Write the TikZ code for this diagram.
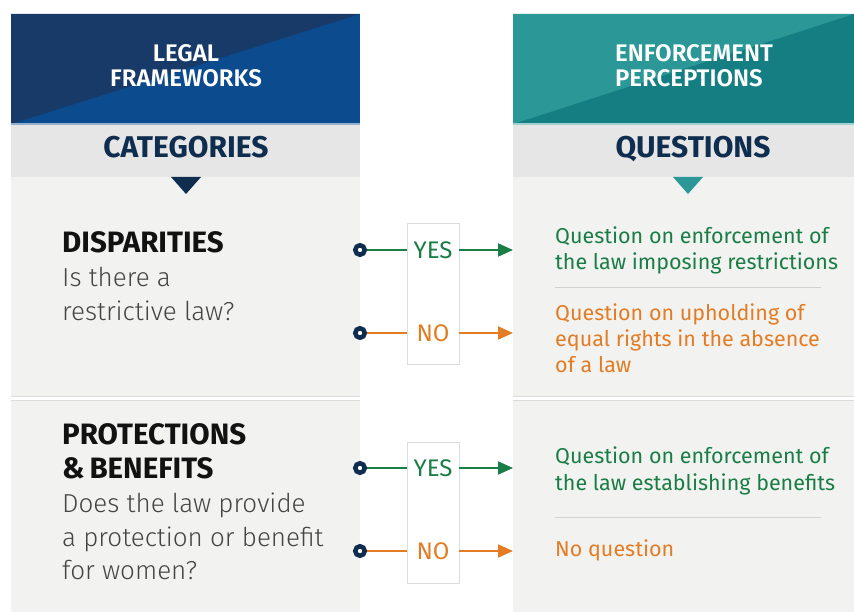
\documentclass[tikz,border=0pt]{standalone}
\usepackage{fontspec}
\setmainfont{Fira Sans}
\newfontfamily\lightfont{Fira Sans Light}
\newfontfamily\semifont{Fira Sans SemiBold}
\usetikzlibrary{arrows.meta}

\definecolor{navydark}{HTML}{173A68}
\definecolor{navylight}{HTML}{0C4B8E}
\definecolor{teallight}{HTML}{2B9797}
\definecolor{tealdark}{HTML}{147E82}
\definecolor{band}{HTML}{E6E6E6}
\definecolor{panel}{HTML}{F2F2F1}
\definecolor{ink}{HTML}{0F2D4E}
\definecolor{yesgreen}{HTML}{1A7D46}
\definecolor{noorange}{HTML}{E37C23}
\definecolor{bodygray}{HTML}{454545}
\definecolor{rulegray}{HTML}{D2D2D2}
\definecolor{boxgray}{HTML}{DCDCDC}

\tikzset{
  headtext/.style={text=white, font=\semifont\fontsize{24}{24}\selectfont, inner sep=0pt},
  bandtext/.style={text=ink, font=\bfseries\fontsize{30}{30}\selectfont, inner sep=0pt},
  cattitle/.style={text=black!93, font=\bfseries\fontsize{29.5}{29.5}\selectfont, inner sep=0pt, anchor=base west},
  catbody/.style={text=bodygray, font=\lightfont\fontsize{26}{26}\selectfont, inner sep=0pt, anchor=base west},
  qtext/.style={font=\fontsize{21.5}{21.5}\selectfont, inner sep=0pt, anchor=base west},
  answer/.style={font=\fontsize{24}{24}\selectfont, inner sep=0pt, minimum width=52pt, minimum height=20pt},
  startdot/.style={circle, draw=ink, line width=4.5pt, fill=white, inner sep=0pt, minimum size=9.5pt},
  link/.style={line width=2pt},
  arrowlink/.style={line width=2pt, -{Triangle[length=15pt,width=13pt]}},
  answerbox/.style={draw=boxgray, fill=white, line width=0.8pt},
  qrule/.style={draw=rulegray, line width=1pt}
}

\begin{document}
\begin{tikzpicture}[x=1pt,y=-1pt]
\useasboundingbox (0,0) rectangle (854,612);
\fill[white] (0,0) rectangle (854,612);

% ---- left column: header, band, panels
\fill[navylight] (11,14) rectangle (360,124);
\fill[navydark] (11,14) -- (360,14) -- (11,124) -- cycle;
\fill[band] (11,124) rectangle (360,177);
\draw[navylight!45!white, line width=1.2pt] (11,124) -- (360,124);
\fill[panel] (11,177) rectangle (360,396);
\fill[panel] (11,400) rectangle (360,612);
\draw[boxgray, line width=1pt] (11,396.5) -- (360,396.5);
\draw[boxgray, line width=1pt] (11,400.5) -- (360,400.5);
\fill[ink] (171,177) -- (201,177) -- (186,194) -- cycle;

% ---- right column: header, band, panels
\fill[tealdark] (513,14) rectangle (854,124);
\fill[teallight] (513,14) -- (854,14) -- (513,124) -- cycle;
\fill[band] (513,124) rectangle (854,177);
\draw[teallight!45!white, line width=1.2pt] (513,124) -- (854,124);
\fill[panel] (513,177) rectangle (854,396);
\fill[panel] (513,400) rectangle (854,612);
\draw[boxgray, line width=1pt] (513,396.5) -- (854,396.5);
\draw[boxgray, line width=1pt] (513,400.5) -- (854,400.5);
\fill[teallight] (673,177) -- (703,177) -- (688,194) -- cycle;

% ---- headings
\node[headtext, anchor=base] (lh1) at (186,62) {LEGAL};
\node[headtext, anchor=base] (lh2) at (186,87) {FRAMEWORKS};
\node[headtext, anchor=base west] (rh1) at (615,62) {ENFORCEMENT};
\node[headtext, anchor=base west] (rh2) at (615,87) {PERCEPTIONS};
\node[bandtext, anchor=base] (cat) at (186,158) {CATEGORIES};
\node[bandtext, anchor=base] (que) at (693,158) {QUESTIONS};

% ---- categories
\node[cattitle] (dis) at (62,253) {DISPARITIES};
\node[catbody] (dis1) at (62,287) {Is there a};
\node[catbody] (dis2) at (62,320) {restrictive law?};

\node[cattitle] (pro1) at (62,444) {PROTECTIONS};
\node[cattitle] (pro2) at (62,478) {\&\,BENEFITS};
\node[catbody] (pro3) at (62,512) {Does the law provide};
\node[catbody] (pro4) at (62,546) {a protection or benefit};
\node[catbody] (pro5) at (62,579) {for women?};

% ---- questions
\node[qtext, text=yesgreen] (q1a) at (555,244) {Question on enforcement of};
\node[qtext, text=yesgreen] (q1b) at (555,270) {the law imposing restrictions};
\draw[qrule] (555,287.5) -- (821,287.5);
\node[qtext, text=noorange] (q2a) at (555,320) {Question on upholding of};
\node[qtext, text=noorange] (q2b) at (555,346) {equal rights in the absence};
\node[qtext, text=noorange] (q2c) at (555,372) {of a law};

\node[qtext, text=yesgreen] (q3a) at (555,463) {Question on enforcement of};
\node[qtext, text=yesgreen] (q3b) at (555,490) {the law establishing benefits};
\draw[qrule] (555,517.5) -- (821,517.5);
\node[qtext, text=noorange] (q4a) at (555,556) {No question};

% ---- answer boxes
\draw[answerbox] (407,223) rectangle (459,364);
\draw[answerbox] (407,442) rectangle (459,583);

% ---- answer rows
\node[answer, text=yesgreen] (y1) at (433,250) {YES};
\node[answer, text=noorange] (n1) at (433,333) {NO};
\node[answer, text=yesgreen] (y2) at (433,468) {YES};
\node[answer, text=noorange] (n2) at (433,551) {NO};

\coordinate (ty1) at (513,250);
\coordinate (tn1) at (513,333);
\coordinate (ty2) at (513,468);
\coordinate (tn2) at (513,551);

\draw[link, yesgreen] (360,250) -- (y1.west);
\draw[link, noorange] (360,333) -- (n1.west);
\draw[link, yesgreen] (360,468) -- (y2.west);
\draw[link, noorange] (360,551) -- (n2.west);

\draw[arrowlink, yesgreen] (y1.east) -- (ty1);
\draw[arrowlink, noorange] (n1.east) -- (tn1);
\draw[arrowlink, yesgreen] (y2.east) -- (ty2);
\draw[arrowlink, noorange] (n2.east) -- (tn2);

\node[startdot] (dy1) at (360,250) {};
\node[startdot] (dn1) at (360,333) {};
\node[startdot] (dy2) at (360,468) {};
\node[startdot] (dn2) at (360,551) {};
\end{tikzpicture}
\end{document}
